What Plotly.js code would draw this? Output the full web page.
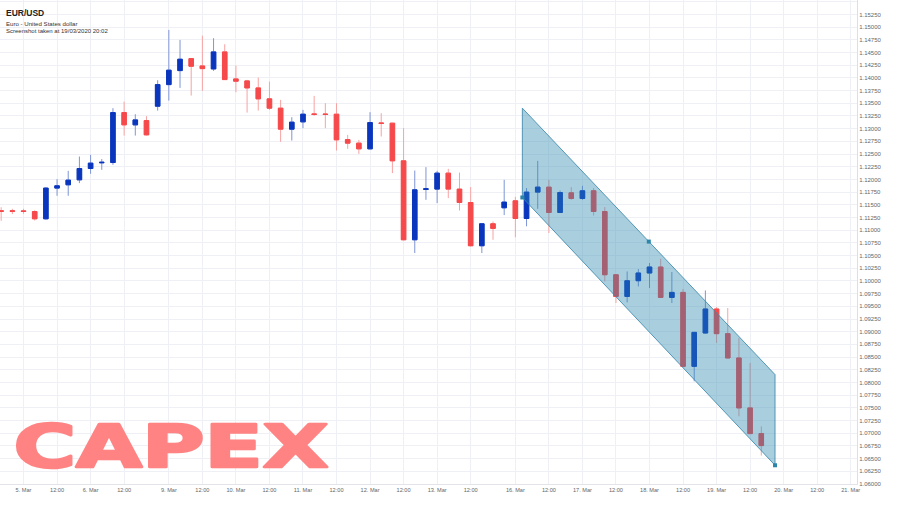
<!DOCTYPE html>
<html>
<head>
<meta charset="utf-8">
<script src="https://cdn.plot.ly/plotly-3.0.1.min.js"></script>
<style>
html,body{margin:0;padding:0;background:#fff;}
#chart{width:897px;height:509px;}
</style>
</head>
<body>
<div id="chart"></div>
<script>
// ---------- DATA ----------
const firstCandle = '2020-03-04T16:00';   // 4-hour candles, consecutive trading slots
const open = [1.11382,1.11382,1.11380,1.11368,1.11224,1.11829,1.11894,1.11992,1.12215,1.12327,
  1.12333,1.13317,1.13075,1.13159,1.13443,1.13868,1.14144,1.14380,1.14236,1.14177,
  1.14512,1.13980,1.13941,1.13803,1.13587,1.13404,1.12990,1.13134,1.13291,1.13289,
  1.13285,1.12785,1.12715,1.12602,1.13114,1.13108,1.12366,1.10811,1.11803,1.11809,
  1.12124,1.11809,1.11545,1.10693,1.11126,1.11441,1.11579,1.11230,1.11750,1.11848,
  1.11348,1.11736,1.11624,1.11776,1.11368,1.10122,1.09695,1.10004,1.10156,1.10274,
  1.09675,1.09774,1.08317,1.08974,1.09447,1.08961,1.08482,1.07498,1.06992];
const high = [1.11451,1.11421,1.11421,1.11392,1.11845,1.12006,1.12169,1.12451,1.12484,1.12400,
  1.13404,1.13533,1.13285,1.13246,1.13955,1.14945,1.14748,1.14388,1.14833,1.14782,
  1.14663,1.14242,1.13961,1.14006,1.13927,1.13567,1.13226,1.13370,1.13646,1.13502,
  1.13502,1.12878,1.12780,1.13325,1.13305,1.13114,1.13010,1.12175,1.12242,1.12169,
  1.12209,1.12136,1.11848,1.11136,1.11171,1.11992,1.11658,1.11829,1.12366,1.11992,
  1.11782,1.11848,1.11874,1.11829,1.11455,1.10122,1.10187,1.10234,1.10352,1.10437,
  1.10175,1.09841,1.08996,1.09813,1.09486,1.09467,1.08876,1.08384,1.07136];
const low = [1.11185,1.11317,1.11323,1.11191,1.11205,1.11677,1.11677,1.11927,1.12110,1.12189,
  1.12287,1.12864,1.12864,1.12868,1.13356,1.13553,1.13803,1.13652,1.13744,1.14138,
  1.13961,1.13718,1.13317,1.13356,1.13370,1.12740,1.12766,1.13010,1.13252,1.13010,
  1.12569,1.12602,1.12504,1.12593,1.12845,1.12124,1.10801,1.10549,1.11598,1.11533,
  1.11632,1.11388,1.10683,1.10549,1.10811,1.11297,1.10860,1.11077,1.11421,1.10943,
  1.11342,1.11598,1.11598,1.11289,1.09990,1.09565,1.09577,1.09892,1.09860,1.09669,
  1.09565,1.08311,1.08022,1.08968,1.08778,1.08476,1.07333,1.06986,1.06559];
const close = [1.11372,1.11372,1.11370,1.11224,1.11829,1.11874,1.11986,1.12215,1.12321,1.12337,
  1.13317,1.13075,1.13173,1.12878,1.13868,1.14152,1.14368,1.14230,1.14183,1.14512,
  1.13967,1.13935,1.13803,1.13587,1.13404,1.12990,1.13128,1.13285,1.13280,1.13280,
  1.12780,1.12715,1.12602,1.13120,1.13102,1.12366,1.10811,1.11795,1.11815,1.12124,
  1.11809,1.11545,1.10693,1.11126,1.11034,1.11553,1.11230,1.11750,1.11848,1.11348,
  1.11742,1.11624,1.11776,1.11368,1.10122,1.09695,1.10004,1.10156,1.10274,1.09675,
  1.09774,1.08317,1.08986,1.09447,1.08961,1.08482,1.07498,1.06992,1.06756];

// user-drawn downward channel
const channelTimes  = ['2020-03-16T02:30', '2020-03-19T20:55'];
const channelTop    = [1.13404, 1.08154];
const channelBottom = [1.11644, 1.06368];
const handleTimes   = ['2020-03-16T02:30', '2020-03-17T23:45', '2020-03-19T20:55'];
const handlePrices  = [1.11644, 1.10775, 1.06368];

const axisStart = '2020-03-04T15:35';
const axisEnd   = '2020-03-21T02:15';
const futureFrom = '2020-03-20T00:00';   // axis continues uniformly into the future
const monthName = 'Mar';

// ---------- trading-slot axis (weekends collapsed, Sunday 20:00 candle kept) ----------
const SLOT = 4 * 3600 * 1000;
const ORIGIN = Date.UTC(2020, 2, 2, 0, 0);
const FUTURE = Date.parse(futureFrom + ':00Z');
function isTrading(ms) {
  if (ms >= FUTURE) return true;
  const d = new Date(ms), wd = d.getUTCDay(), h = d.getUTCHours();
  if (wd === 6) return false;
  if (wd === 0 && h < 20) return false;
  return true;
}
function slotOf(iso) {
  const ms = Date.parse(iso + ':00Z') - ORIGIN;
  const base = Math.floor(ms / SLOT);
  const frac = (ms - base * SLOT) / SLOT;
  let n = 0;
  for (let k = 0; k < base; k++) if (isTrading(ORIGIN + k * SLOT)) n++;
  return n + frac;
}
const first = slotOf(firstCandle);
const xs = open.map((_, i) => first + i);

// ticks every 12h
const tickvals = [], ticktext = [];
for (let k = 0; k < 6 * 25; k++) {
  const ms = ORIGIN + k * SLOT;
  if (!isTrading(ms)) continue;
  const d = new Date(ms), h = d.getUTCHours();
  if (h !== 0 && h !== 12) continue;
  const iso = d.toISOString().slice(0, 16);
  tickvals.push(slotOf(iso));
  ticktext.push(h === 0 ? d.getUTCDate() + '. ' + monthName : '12:00');
}

const bodyHigh = open.map((o, i) => Math.max(o, close[i]));
const bodyLow  = open.map((o, i) => Math.min(o, close[i]));

const BLUE = '#0a36be', BLUE_W = '#7f95d6', RED = '#f6494b', RED_W = '#f7a3a2';

const cx = channelTimes.map(slotOf);
const traces = [
  { type: 'candlestick', x: xs, open: open, high: high, low: low, close: close,
    increasing: { line: { color: BLUE_W, width: 1 }, fillcolor: BLUE_W },
    decreasing: { line: { color: RED_W, width: 1 }, fillcolor: RED_W },
    whiskerwidth: 0, hoverinfo: 'skip', showlegend: false },
  { type: 'candlestick', x: xs, open: open, high: bodyHigh, low: bodyLow, close: close,
    increasing: { line: { color: BLUE, width: 1 }, fillcolor: BLUE },
    decreasing: { line: { color: RED, width: 1 }, fillcolor: RED },
    whiskerwidth: 0, hoverinfo: 'skip', showlegend: false },
  { type: 'scatter', mode: 'lines',
    x: [cx[0], cx[1], cx[1], cx[0], cx[0]],
    y: [channelTop[0], channelTop[1], channelBottom[1], channelBottom[0], channelTop[0]],
    fill: 'toself', fillcolor: 'rgba(40,135,175,0.40)',
    line: { color: 'rgba(60,135,170,0.85)', width: 1 }, hoverinfo: 'skip', showlegend: false },
  { type: 'scatter', mode: 'markers', x: handleTimes.map(slotOf), y: handlePrices,
    marker: { symbol: 'square', size: 4, color: '#2c86aa' }, hoverinfo: 'skip', showlegend: false }
];

const PW = 857, PH = 484;
const tickFont = { family: 'Liberation Sans, Arial, sans-serif', size: 6, color: '#666' };
const layout = {
  width: 897, height: 509,
  margin: { l: 0, r: 897 - PW, t: 0, b: 509 - PH },
  paper_bgcolor: '#ffffff', plot_bgcolor: '#ffffff',
  showlegend: false, boxgap: 0.42, boxmode: 'overlay',
  xaxis: { type: 'linear', range: [slotOf(axisStart), slotOf(axisEnd)],
    tickmode: 'array', tickvals: tickvals, ticktext: ticktext,
    showgrid: true, gridcolor: '#eef0f5', gridwidth: 1, zeroline: false,
    showline: true, linecolor: '#e2e4ea', linewidth: 1, ticks: '',
    tickfont: { family: tickFont.family, size: 5.6, color: '#666' },
    rangeslider: { visible: false }, fixedrange: true },
  yaxis: { side: 'right', range: [1.05999, 1.15535], tick0: 1.06, dtick: 0.0025,
    tickformat: '.5f', showgrid: true, gridcolor: '#eef0f5', gridwidth: 1, zeroline: false,
    showline: true, linecolor: '#dcdfe6', linewidth: 1, ticks: '',
    tickfont: tickFont, fixedrange: true },
  annotations: [
    { xref: 'paper', yref: 'paper', x: 4 / PW, y: 1 - 13 / PH, xanchor: 'left', yanchor: 'middle',
      text: '<b>EUR/USD</b>', showarrow: false,
      font: { family: 'Liberation Sans, Arial, sans-serif', size: 8.5, color: '#222' } },
    { xref: 'paper', yref: 'paper', x: 4 / PW, y: 1 - 23 / PH, xanchor: 'left', yanchor: 'middle',
      text: 'Euro - United States dollar', showarrow: false,
      font: { family: 'Liberation Sans, Arial, sans-serif', size: 6.1, color: '#333' } },
    { xref: 'paper', yref: 'paper', x: 4 / PW, y: 1 - 31 / PH, xanchor: 'left', yanchor: 'middle',
      text: 'Screenshot taken at 19/03/2020 20:02', showarrow: false,
      font: { family: 'Liberation Sans, Arial, sans-serif', size: 6.0, color: '#333' } },
    { xref: 'paper', yref: 'paper', x: 170.5 / PW, y: (PH - 446) / PH, xanchor: 'center', yanchor: 'middle',
      text: 'CAPEX', showarrow: false,
      font: { family: 'DejaVu Sans, sans-serif', size: 59, color: '#ff8383', weight: 700 } }
  ]
};

Plotly.newPlot('chart', traces, layout, { displayModeBar: false, staticPlot: true }).then(function (gd) {
  gd.querySelectorAll('.annotation-text').forEach(function (t) {
    if (t.textContent === 'CAPEX') {
      t.setAttribute('textLength', '315');
      t.setAttribute('lengthAdjust', 'spacingAndGlyphs');
      t.style.stroke = '#ff8383';
      t.style.strokeWidth = '2.5px';
      t.style.strokeLinejoin = 'round';
    }
  });
});
</script>
</body>
</html>
